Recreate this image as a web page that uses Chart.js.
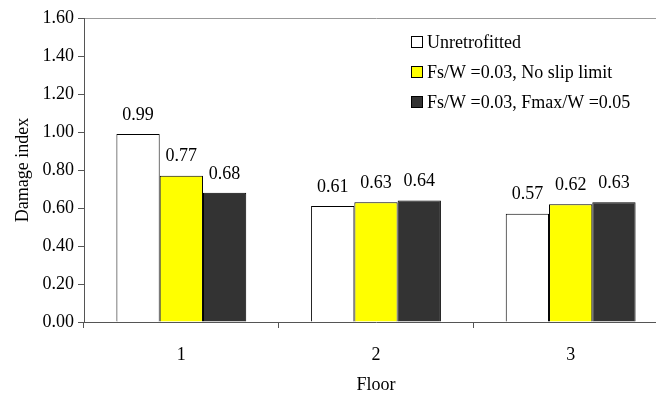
<!DOCTYPE html>
<html>
<head>
<meta charset="utf-8">
<script src="https://cdn.jsdelivr.net/npm/chart.js@4"></script>
<style>
  html, body { margin: 0; padding: 0; background: #fff; overflow: hidden; }
  #wrap { width: 668px; height: 396px; }
</style>
</head>
<body>
<div id="wrap"><canvas id="c" width="668" height="396"></canvas></div>
<script>
const floors = ['1', '2', '3'];
const seriesNames = ['Unretrofitted', 'Fs/W =0.03, No slip limit', 'Fs/W =0.03, Fmax/W =0.05'];
const unretrofitted = [0.99, 0.61, 0.57];
const noSlipLimit = [0.77, 0.63, 0.62];
const fmaxLimit = [0.68, 0.64, 0.63];
const yTicks = [0, 0.2, 0.4, 0.6, 0.8, 1.0, 1.2, 1.4, 1.6];

const FONT = '"Liberation Serif", "DejaVu Serif", serif';
const AXIS = '#555555';

// value labels above each bar
const valueLabels = {
  id: 'valueLabels',
  afterDatasetsDraw(chart) {
    const ctx = chart.ctx;
    ctx.save();
    ctx.font = '18px ' + FONT;
    ctx.fillStyle = '#000';
    ctx.textAlign = 'center';
    ctx.textBaseline = 'middle';
    chart.data.datasets.forEach((ds, i) => {
      chart.getDatasetMeta(i).data.forEach((bar, j) => {
        ctx.fillText(ds.data[j].toFixed(2), bar.x, bar.y - 19);
      });
    });
    ctx.restore();
  }
};

// legend box drawn inside the plot area
const innerLegend = {
  id: 'innerLegend',
  afterDraw(chart) {
    const ctx = chart.ctx;
    ctx.save();
    ctx.font = '18px ' + FONT;
    ctx.textBaseline = 'middle';
    ctx.textAlign = 'left';
    const x0 = 411, y0 = 42, step = 30, box = 12;
    chart.data.datasets.forEach((ds, i) => {
      const y = y0 + i * step;
      ctx.fillStyle = ds.backgroundColor;
      ctx.fillRect(x0, y - box / 2, box, box);
      ctx.strokeStyle = '#000';
      ctx.lineWidth = 1;
      ctx.strokeRect(x0 + 0.5, y - box / 2 + 0.5, box - 1, box - 1);
      ctx.fillStyle = '#000';
      ctx.fillText(ds.label, x0 + box + 4, y + 1);
    });
    ctx.restore();
  }
};

const colors = ['#ffffff', '#ffff00', '#333333'];
const values = [unretrofitted, noSlipLimit, fmaxLimit];

new Chart(document.getElementById('c'), {
  type: 'bar',
  data: {
    labels: floors,
    datasets: seriesNames.map((name, i) => ({
      label: name,
      data: values[i],
      backgroundColor: colors[i],
      borderColor: '#000',
      borderWidth: 1,
      borderSkipped: 'bottom',
      barPercentage: 1,
      categoryPercentage: 0.667
    }))
  },
  options: {
    responsive: false,
    animation: false,
    devicePixelRatio: 1,
    layout: { padding: { top: 18, left: 0, right: 0, bottom: 0 } },
    plugins: {
      legend: { display: false },
      tooltip: { enabled: false }
    },
    scales: {
      x: {
        offset: true,
        grid: {
          offset: true,
          color: 'transparent',
          tickColor: AXIS,
          tickLength: 6,
          drawOnChartArea: false
        },
        border: { color: AXIS, width: 1 },
        ticks: {
          font: { family: FONT, size: 18 },
          color: '#000',
          padding: 16
        },
        title: {
          display: true,
          text: 'Floor',
          font: { family: FONT, size: 18 },
          color: '#000',
          padding: { top: 6, bottom: 0 }
        },
        afterFit(scale) { scale.height = 74; }
      },
      y: {
        min: 0,
        max: 1.6,
        afterBuildTicks(scale) { scale.ticks = yTicks.map(v => ({ value: v })); },
        grid: {
          color: ctx => (ctx.tick && ctx.tick.value === 1.6 ? '#999999' : 'transparent'),
          tickColor: AXIS,
          tickLength: 6
        },
        border: { color: AXIS, width: 1 },
        ticks: {
          font: { family: FONT, size: 18 },
          color: '#000',
          padding: 4,
          callback: v => Number(v).toFixed(2)
        },
        title: {
          display: true,
          text: 'Damage index',
          font: { family: FONT, size: 18 },
          color: '#000',
          padding: { top: 12, bottom: 0 }
        },
        afterFit(scale) { scale.width = 84; }
      }
    }
  },
  plugins: [valueLabels, innerLegend]
});
</script>
</body>
</html>
